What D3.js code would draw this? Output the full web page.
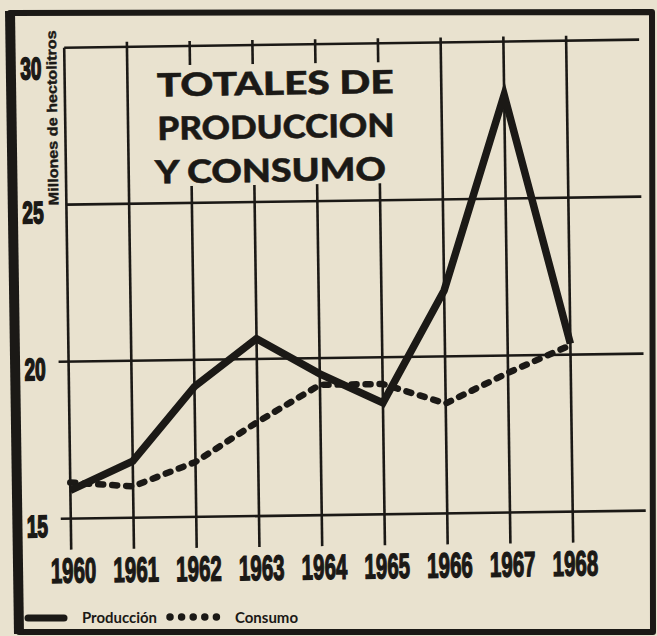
<!DOCTYPE html>
<html>
<head>
<meta charset="utf-8">
<script src="https://cdn.jsdelivr.net/npm/d3@7"></script>
<style>
  body { margin: 0; background: #e9e2cf; }
  svg { display: block; }
</style>
</head>
<body>
<div id="chart"></div>
<script>
// Values (millions of hectolitres)
var years = [1960, 1961, 1962, 1963, 1964, 1965, 1966, 1967, 1968];
var produccion = [15.9, 16.8, 19.15, 20.65, 19.5, 18.55, 22.1, 28.3, 20.35];
var consumo = [16.15, 16.0, 16.75, 18.0, 19.15, 19.15, 18.5, 19.45, 20.3];
var yTicks = [15, 20, 25, 30];
var titleLines = ["TOTALES DE", "PRODUCCION", "Y CONSUMO"];

var width = 657;
var height = 636;
var ink = "#1b1916";
var paper = "#e9e2cf";

var svg = d3.select("#chart")
    .append("svg")
    .attr("width", width)
    .attr("height", height);

svg.append("rect")
    .attr("width", width)
    .attr("height", height)
    .attr("fill", paper);

// outer frame (the scan is a bit skewed)
svg.append("path")
    .attr("d", "M10,13 L652,12 L653,632 L19,632 Z")
    .attr("fill", "none")
    .attr("stroke", ink)
    .attr("stroke-width", 6)
    .attr("stroke-linejoin", "round");
svg.append("line")
    .attr("x1", 10).attr("y1", 11)
    .attr("x2", 19).attr("y2", 634)
    .attr("stroke", ink)
    .attr("stroke-width", 10);

// the whole chart is printed slightly rotated
var g = svg.append("g")
    .attr("transform", "rotate(-0.8, 330, 318)");

var x = d3.scaleLinear().domain([1960, 1968]).range([68, 570]);
var y = d3.scaleLinear().domain([15, 30]).range([515, 44]);

var numFont = "'Liberation Sans', Arimo, Arial, sans-serif";

// horizontal grid lines
g.selectAll(".hgrid")
    .data(yTicks)
    .enter().append("line")
    .attr("class", "hgrid")
    .attr("x1", function (d) { return d <= 20 ? x(1960) - 10 : x(1960); })
    .attr("x2", 643)
    .attr("y1", function (d) { return y(d); })
    .attr("y2", function (d) { return y(d); })
    .attr("stroke", ink)
    .attr("stroke-width", 2.6);

// vertical grid lines, running below the base line as ticks
g.selectAll(".vgrid")
    .data(years)
    .enter().append("line")
    .attr("class", "vgrid")
    .attr("x1", function (d) { return x(d); })
    .attr("x2", function (d) { return x(d); })
    .attr("y1", function (d) { return d === 1960 ? y(30) : y(30) - 5; })
    .attr("y2", 546)
    .attr("stroke", ink)
    .attr("stroke-width", 2.6);

// paper knock-out behind the title
g.append("rect")
    .attr("x", 142)
    .attr("y", 63)
    .attr("width", 260)
    .attr("height", 121)
    .attr("fill", paper);

g.selectAll(".title")
    .data(titleLines)
    .enter().append("text")
    .attr("class", "title")
    .attr("x", function (d, i) { return i === 2 ? 157 : 160; })
    .attr("y", function (d, i) { return 94 + i * 43.5; })
    .attr("textLength", function (d, i) { return i === 2 ? 231 : 237; })
    .attr("lengthAdjust", "spacingAndGlyphs")
    .attr("font-family", "Lato, 'DejaVu Sans', sans-serif")
    .attr("font-weight", 900)
    .attr("font-size", 32)
    .attr("fill", ink)
    .attr("stroke", ink)
    .attr("stroke-width", 0.5)
    .text(function (d) { return d; });

// y axis labels: heavy condensed figures
g.selectAll(".ylab")
    .data(yTicks)
    .enter().append("text")
    .attr("class", "ylab")
    .attr("transform", function (d) {
        return "translate(45," + (y(d) + (d === 30 ? 31 : 18)) + ") scale(0.86,1.4)";
    })
    .attr("text-anchor", "end")
    .attr("font-family", numFont)
    .attr("font-weight", "bold")
    .attr("font-size", 22)
    .attr("fill", ink)
    .attr("stroke", ink)
    .attr("stroke-width", 1.3)
    .text(function (d) { return d; });

g.append("text")
    .attr("transform", "translate(60,114) rotate(-90)")
    .attr("text-anchor", "middle")
    .attr("textLength", 175)
    .attr("lengthAdjust", "spacingAndGlyphs")
    .attr("font-family", numFont)
    .attr("font-weight", "bold")
    .attr("font-size", 14)
    .attr("fill", ink)
    .attr("stroke", ink)
    .attr("stroke-width", 0.4)
    .text("Millones de hectolitros");

// x axis labels
g.selectAll(".xlab")
    .data(years)
    .enter().append("text")
    .attr("class", "xlab")
    .attr("transform", function (d) {
        return "translate(" + (x(d) + 2) + ",579) scale(0.82,1.4)";
    })
    .attr("text-anchor", "middle")
    .attr("font-family", numFont)
    .attr("font-weight", "bold")
    .attr("font-size", 25)
    .attr("fill", ink)
    .attr("stroke", ink)
    .attr("stroke-width", 1)
    .text(function (d) { return d; });

var lineOf = function (values) {
    return d3.line()
        .x(function (d, i) { return x(years[i]); })
        .y(function (d) { return y(d); })(values);
};

// Consumo: heavy dotted line
g.append("path")
    .attr("d", lineOf(consumo))
    .attr("fill", "none")
    .attr("stroke", ink)
    .attr("stroke-width", 6.5)
    .attr("stroke-linecap", "round")
    .attr("stroke-dasharray", "5,9");

// Producción: heavy solid line
g.append("path")
    .attr("d", lineOf(produccion))
    .attr("fill", "none")
    .attr("stroke", ink)
    .attr("stroke-width", 7.5)
    .attr("stroke-linejoin", "miter");

// legend
svg.append("line")
    .attr("x1", 28).attr("x2", 64)
    .attr("y1", 618).attr("y2", 618)
    .attr("stroke", ink)
    .attr("stroke-width", 7)
    .attr("stroke-linecap", "round");
svg.append("text")
    .attr("x", 82).attr("y", 623)
    .attr("textLength", 75)
    .attr("lengthAdjust", "spacingAndGlyphs")
    .attr("font-family", "Lato, 'DejaVu Sans', sans-serif")
    .attr("font-weight", "bold")
    .attr("font-size", 15)
    .attr("fill", ink)
    .text("Producción");
svg.append("line")
    .attr("x1", 170).attr("x2", 228)
    .attr("y1", 617).attr("y2", 617)
    .attr("stroke", ink)
    .attr("stroke-width", 7.5)
    .attr("stroke-linecap", "round")
    .attr("stroke-dasharray", "0,11.6");
svg.append("text")
    .attr("x", 235).attr("y", 623)
    .attr("textLength", 63)
    .attr("lengthAdjust", "spacingAndGlyphs")
    .attr("font-family", "Lato, 'DejaVu Sans', sans-serif")
    .attr("font-weight", "bold")
    .attr("font-size", 15)
    .attr("fill", ink)
    .text("Consumo");
</script>
</body>
</html>
